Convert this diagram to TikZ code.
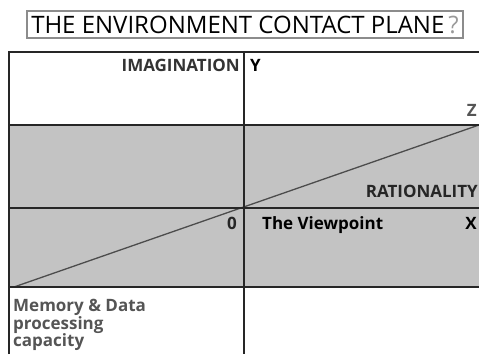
\documentclass[tikz,border=0pt]{standalone}
\usepackage{fontspec}
\setmainfont{Open Sans}
\usetikzlibrary{positioning}
\definecolor{bandgray}{HTML}{C3C3C3}
\definecolor{framegray}{HTML}{8C8C8C}
\definecolor{softgray}{HTML}{999999}
\definecolor{labelgray}{HTML}{555555}
\tikzstyle{titlebox} = [rectangle, draw=framegray, line width=2pt, minimum width=436pt, minimum height=27pt, inner sep=0pt, font=\fontsize{24}{26}\selectfont]
\tikzstyle{axislabel} = [inner sep=0pt, font=\bfseries\fontsize{17}{19}\selectfont]
\tikzstyle{gridline} = [line width=1.8pt, draw=black!85]
\tikzstyle{diag} = [line width=1.3pt, draw=black!70]

\begin{document}
\begin{tikzpicture}[x=1pt, y=-1pt]
\useasboundingbox (0,0) rectangle (479,354);
% shaded band between the two planes
\fill [bandgray] (9,125) rectangle (479,287);
% grid corners
\coordinate (topleft) at (9,52);
\coordinate (topright) at (479,52);
\coordinate (botleft) at (9,354);
\coordinate (axistop) at (244,52);
\coordinate (axisbot) at (244,354);
\coordinate (bandtopL) at (9,125);
\coordinate (bandtopR) at (479,125);
\coordinate (midL) at (9,208);
\coordinate (midR) at (479,208);
\coordinate (bandbotL) at (9,287);
\coordinate (bandbotR) at (479,287);
\coordinate (diagstart) at (14,287);
\coordinate (diagend) at (479,125);
\draw [diag] (diagstart) -- (diagend);
\draw [gridline] (botleft) -- (topleft) -- (topright);
\draw [gridline] (axistop) -- (axisbot);
\draw [gridline] (bandtopL) -- (bandtopR);
\draw [gridline] (midL) -- (midR);
\draw [gridline] (bandbotL) -- (bandbotR);
% title
\node (title) [titlebox] at (245,24.5) {THE ENVIRONMENT CONTACT PLANE\,\textcolor{softgray}{?}};
% axis labels
\node (imagination) [axislabel, anchor=base east, text=black!80] at (240,71) {IMAGINATION};
\node (yaxis) [axislabel, anchor=base west] at (250,71) {Y};
\node (zaxis) [axislabel, anchor=base east, text=labelgray] at (477,116) {Z};
\node (rationality) [axislabel, anchor=base east, text=black!85] at (478,197) {RATIONALITY};
\node (origin) [axislabel, anchor=base east, text=black!85] at (237,229) {0};
\node (viewpoint) [axislabel, anchor=base west] at (262,229) {The Viewpoint};
\node (xaxis) [axislabel, anchor=base east] at (477,229) {X};
\node (memory) [axislabel, anchor=north west, text=labelgray, align=left, font=\bfseries\fontsize{17}{17.5}\selectfont] at (13,299) {Memory \& Data\\processing\\capacity};
\end{tikzpicture}
\end{document}
